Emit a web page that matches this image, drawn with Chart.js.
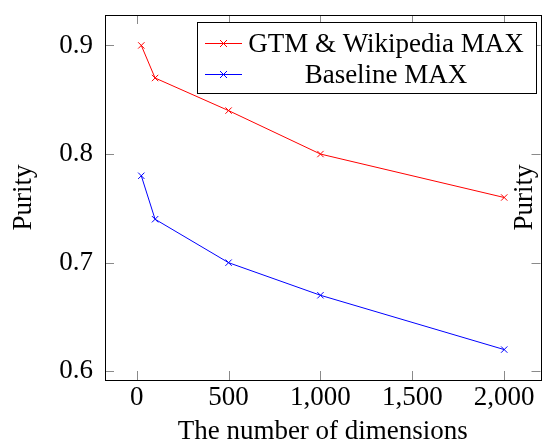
<!DOCTYPE html>
<html>
<head>
<meta charset="utf-8">
<script src="https://cdn.jsdelivr.net/npm/chart.js@4"></script>
<style>
  html, body { margin: 0; padding: 0; background: #fff; overflow: hidden; }
  #wrap { width: 546px; height: 444px; }
</style>
</head>
<body>
<div id="wrap"><canvas id="c" width="546" height="444"></canvas></div>
<script>
const dims = [25, 100, 500, 1000, 2000];
const gtmWiki = [0.90, 0.87, 0.84, 0.80, 0.76];
const baseline = [0.78, 0.74, 0.70, 0.67, 0.62];
const xTicks = [0, 500, 1000, 1500, 2000];
const yTicks = [0.6, 0.7, 0.8, 0.9];
const seriesNames = ['GTM & Wikipedia MAX', 'Baseline MAX'];

const FONT = '"Liberation Serif", "DejaVu Serif", serif';
const FS = 27;

const toPoints = (ys) => ys.map((y, i) => ({ x: dims[i], y }));

// frame, inward ticks, legend box and the second "Purity" label
const frame = {
  id: 'frame',
  afterDatasetsDraw(chart) {
    const { ctx, chartArea: a, scales } = chart;
    ctx.save();
    ctx.strokeStyle = '#8a8a8a';
    ctx.lineWidth = 1;
    ctx.beginPath();
    xTicks.forEach(v => {
      const px = Math.round(scales.x.getPixelForValue(v)) + 0.5;
      ctx.moveTo(px, a.bottom); ctx.lineTo(px, a.bottom - 9);
      ctx.moveTo(px, a.top); ctx.lineTo(px, a.top + 9);
    });
    yTicks.forEach(v => {
      const py = Math.round(scales.y.getPixelForValue(v)) + 0.5;
      ctx.moveTo(a.left, py); ctx.lineTo(a.left + 9, py);
      ctx.moveTo(a.right, py); ctx.lineTo(a.right - 9, py);
    });
    ctx.stroke();

    ctx.strokeStyle = '#000';
    ctx.strokeRect(Math.round(a.left) + 0.5, Math.round(a.top) + 0.5,
                   Math.round(a.right - a.left), Math.round(a.bottom - a.top));

    // right-hand axis title
    ctx.fillStyle = '#000';
    ctx.font = FS + 'px ' + FONT;
    ctx.textAlign = 'center';
    ctx.textBaseline = 'middle';
    ctx.translate(525, (a.top + a.bottom) / 2);
    ctx.rotate(-Math.PI / 2);
    ctx.fillText('Purity', 0, 0);
    ctx.restore();

    // legend
    const lx = 197, ly = 22, lw = 339, lh = 71;
    ctx.save();
    ctx.fillStyle = '#fff';
    ctx.fillRect(lx, ly, lw, lh);
    ctx.strokeStyle = '#000';
    ctx.lineWidth = 1;
    ctx.strokeRect(lx + 0.5, ly + 0.5, lw, lh);
    chart.data.datasets.forEach((ds, i) => {
      const cy = 43.5 + i * 31;
      ctx.strokeStyle = ds.borderColor;
      ctx.beginPath();
      ctx.moveTo(205, cy); ctx.lineTo(242, cy);
      const m = 3.5, cx = 223.5;
      ctx.moveTo(cx - m, cy - m); ctx.lineTo(cx + m, cy + m);
      ctx.moveTo(cx - m, cy + m); ctx.lineTo(cx + m, cy - m);
      ctx.stroke();
      ctx.fillStyle = '#000';
      ctx.font = FS + 'px ' + FONT;
      ctx.textAlign = 'center';
      ctx.textBaseline = 'middle';
      ctx.fillText(ds.label, 386, cy + 1);
    });
    ctx.restore();
  }
};

new Chart(document.getElementById('c'), {
  type: 'line',
  data: {
    datasets: [
      { label: seriesNames[0], data: toPoints(gtmWiki), borderColor: '#ff0000' },
      { label: seriesNames[1], data: toPoints(baseline), borderColor: '#0000ff' }
    ].map(d => Object.assign(d, {
      borderWidth: 1,
      pointStyle: 'crossRot',
      pointRadius: 4.5,
      pointBorderWidth: 1,
      pointBorderColor: d.borderColor,
      tension: 0,
      fill: false
    }))
  },
  options: {
    responsive: false,
    animation: false,
    layout: { padding: { top: 15, right: 1, left: 8, bottom: 0 } },
    plugins: { legend: { display: false }, tooltip: { enabled: false } },
    scales: {
      x: {
        type: 'linear',
        min: -172.5,
        max: 2197.5,
        afterBuildTicks: s => { s.ticks = xTicks.map(v => ({ value: v })); },
        afterFit: s => { s.height = 64; s.paddingLeft = 0; s.paddingRight = 0; },
        grid: { display: false, drawTicks: false },
        border: { display: false },
        ticks: {
          padding: 2,
          color: '#000',
          font: { family: FONT, size: FS },
          maxRotation: 0,
          callback: v => v.toLocaleString('en-US')
        },
        title: {
          display: true,
          text: 'The number of dimensions',
          color: '#000',
          font: { family: FONT, size: FS, lineHeight: 0.9 },
          padding: 0
        }
      },
      y: {
        min: 0.592,
        max: 0.928,
        afterBuildTicks: s => { s.ticks = yTicks.map(v => ({ value: v })); },
        afterFit: s => { s.width = 97; s.paddingTop = 0; s.paddingBottom = 0; },
        grid: { display: false, drawTicks: false },
        border: { display: false },
        ticks: {
          padding: 12,
          color: '#000',
          font: { family: FONT, size: FS },
          callback: v => v.toFixed(1)
        },
        title: {
          display: true,
          text: 'Purity',
          color: '#000',
          font: { family: FONT, size: FS },
          padding: 0
        }
      }
    }
  },
  plugins: [frame]
});
</script>
</body>
</html>
